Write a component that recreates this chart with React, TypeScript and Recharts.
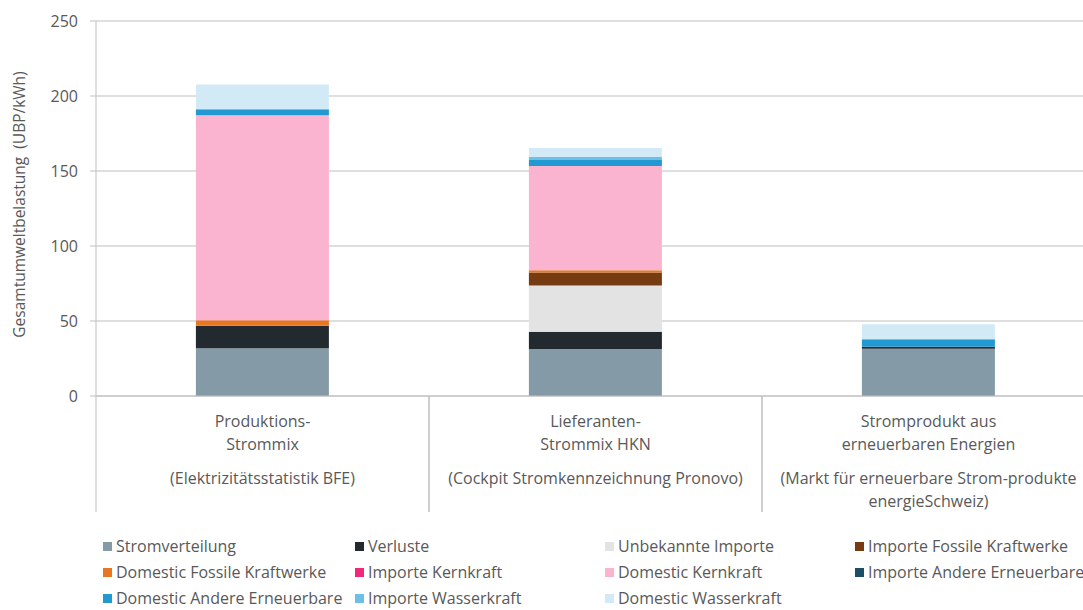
import React from 'react';
import { BarChart, Bar, XAxis, YAxis, CartesianGrid, Legend } from 'recharts';

const categories = ['Produktions-Strommix', 'Lieferanten-Strommix HKN', 'Stromprodukt aus erneuerbaren Energien'];
const categoryLabelLines = [
  ['Produktions-', 'Strommix', '', '(Elektrizitätsstatistik BFE)'],
  ['Lieferanten-', 'Strommix HKN', '', '(Cockpit Stromkennzeichnung Pronovo)'],
  ['Stromprodukt aus', 'erneuerbaren Energien', '', '(Markt für erneuerbare Strom-produkte', 'energieSchweiz)'],
];
const yTicks = [0, 50, 100, 150, 200, 250];

const stromverteilung = [31.8, 31.3, 31.5];
const verluste = [15.1, 11.6, 1.4];
const unbekannteImporte = [0, 30.7, 0];
const importeFossile = [0, 8.8, 0];
const domesticFossile = [3.6, 1.5, 0];
const importeKernkraft = [0, 0, 0];
const domesticKernkraft = [136.6, 69.4, 0];
const importeAndere = [0, 0, 0];
const domesticAndere = [4.0, 4.0, 4.9];
const importeWasserkraft = [0, 2.2, 0];
const domesticWasserkraft = [16.5, 5.8, 10.0];

const series = [
  { key: 's1', name: 'Stromverteilung', color: '#849BA7', values: stromverteilung },
  { key: 's2', name: 'Verluste', color: '#22292F', values: verluste },
  { key: 's3', name: 'Unbekannte Importe', color: '#E3E3E3', values: unbekannteImporte },
  { key: 's4', name: 'Importe Fossile Kraftwerke', color: '#763B10', values: importeFossile },
  { key: 's5', name: 'Domestic Fossile Kraftwerke', color: '#E87722', values: domesticFossile },
  { key: 's6', name: 'Importe Kernkraft', color: '#F0287A', values: importeKernkraft },
  { key: 's7', name: 'Domestic Kernkraft', color: '#FBB4CF', values: domesticKernkraft },
  { key: 's8', name: 'Importe Andere Erneuerbare', color: '#1C4F66', values: importeAndere },
  { key: 's9', name: 'Domestic Andere Erneuerbare', color: '#2299D0', values: domesticAndere },
  { key: 's10', name: 'Importe Wasserkraft', color: '#6CC0E8', values: importeWasserkraft },
  { key: 's11', name: 'Domestic Wasserkraft', color: '#D2EAF6', values: domesticWasserkraft },
];

const data = categories.map((name, i) => {
  const row: Record<string, any> = { name, idx: i };
  series.forEach((s) => { row[s.key] = s.values[i]; });
  return row;
});

const TEXT = '#595959';
const LINE = '#BFBFBF';

const CategoryTick = (props: any) => {
  const { x, y, payload, index } = props;
  const half = payload && payload.offset ? payload.offset : 166.5;
  const lines = categoryLabelLines[index] || [];
  const offs = [25, 48, 0, 82, 105];
  return (
    <g>
      <line x1={x - half} y1={y} x2={x - half} y2={y + 116} stroke={LINE} strokeWidth={1} />
      <line x1={x + half} y1={y} x2={x + half} y2={y + 116} stroke={LINE} strokeWidth={1} />
      {lines.map((t: string, i: number) =>
        t ? (
          <text key={i} x={x} y={y + offs[i]} textAnchor="middle" dominantBaseline="central" fill={TEXT} fontSize={16}>
            {t}
          </text>
        ) : null
      )}
    </g>
  );
};

const renderLegend = () => (
  <div style={{ paddingTop: 21, paddingLeft: 103, display: 'grid', gridTemplateColumns: '252px 250px 250px 250px', gridAutoRows: '18px', rowGap: 8, height: 94, boxSizing: 'border-box' }}>
    {series.map((s) => (
      <div key={s.key} style={{ display: 'flex', alignItems: 'center', whiteSpace: 'nowrap', fontSize: 16, lineHeight: '18px', height: 18, color: TEXT }}>
        <span style={{ display: 'inline-block', width: 9, height: 9, background: s.color, marginRight: 4 }} />
        <span>{s.name}</span>
      </div>
    ))}
  </div>
);

const YLabel = (props: any) => {
  const vb = props.viewBox || { x: 0, y: 21, width: 96, height: 375 };
  const cx = vb.x + 19;
  const cy = vb.y + vb.height / 2 - 4;
  return (
    <text x={cx} y={cy} transform={`rotate(-90, ${cx}, ${cy})`} textAnchor="middle" dominantBaseline="central" fill={TEXT} fontSize={15.5} style={{ whiteSpace: 'pre' }}>
      {'Gesamtumweltbelastung\u00A0 (UBP/kWh)'}
    </text>
  );
};

export default function App() {
  return (
    <div style={{ position: 'absolute', left: 0, top: 0, width: 1083, height: 610, overflow: 'hidden', background: '#fff', fontFamily: '"Open Sans", sans-serif' }}>
      <BarChart width={1100} height={610} data={data} margin={{ top: 21, right: 5, left: 0, bottom: 0 }} barCategoryGap="30%">
        <CartesianGrid horizontal vertical={false} stroke={LINE} />
        <XAxis dataKey="name" height={120} interval={0} tickLine={false} tickSize={0} tickMargin={0} axisLine={{ stroke: LINE }} tick={<CategoryTick />} />
        <YAxis
          width={96}
          domain={[0, 250]}
          ticks={yTicks}
          tickSize={6}
          tickMargin={12}
          axisLine={{ stroke: LINE }}
          tickLine={{ stroke: LINE }}
          tick={{ fill: TEXT, fontSize: 16 }}
          label={<YLabel />}
        />
        <Legend verticalAlign="bottom" align="left" content={renderLegend} wrapperStyle={{ left: 0, width: 1100, height: 94 }} />
        {series.map((s) => (
          <Bar key={s.key} dataKey={s.key} name={s.name} stackId="a" fill={s.color} isAnimationActive={false} />
        ))}
      </BarChart>
    </div>
  );
}
